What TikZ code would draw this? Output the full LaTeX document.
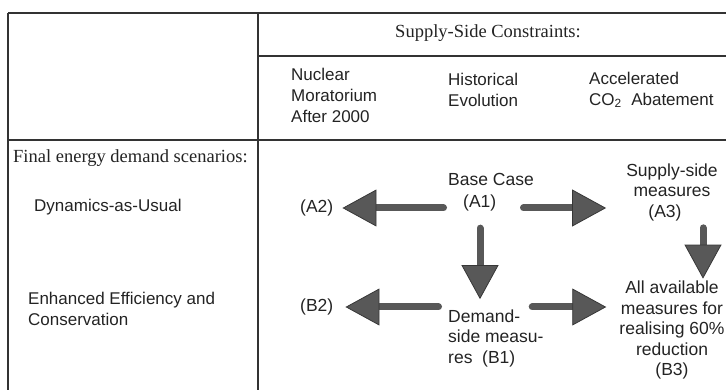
\documentclass[tikz,border=0pt]{standalone}
\usepackage{fontspec}
\setmainfont{Liberation Serif}
\setsansfont{Liberation Sans}
\usetikzlibrary{arrows.meta, positioning}
\definecolor{arrowfill}{RGB}{88,88,88}
\definecolor{arrowedge}{RGB}{55,55,55}
\definecolor{inkgrey}{RGB}{35,35,35}
\tikzset{
    gridline/.style={line width=1.4pt, draw=black!80},
    colhead/.style={font=\fontsize{18.5}{21}\selectfont, text=inkgrey, inner sep=0pt},
    sidelbl/.style={font=\sffamily\fontsize{17}{21}\selectfont, text=inkgrey, align=left,
                    inner sep=0pt, anchor=west},
    scenario/.style={font=\sffamily\fontsize{17.5}{20.5}\selectfont, text=inkgrey,
                     align=center, inner sep=0pt},
    bigarrow/.style={line width=7pt, draw=arrowfill, line cap=round,
                     -{Triangle[length=34pt, width=37pt, line width=0.8pt,
                                fill=arrowfill, color=arrowedge]}},
}
\begin{document}
\begin{tikzpicture}[x=1pt, y=-1pt]

    \clip (0,0) rectangle (726,390);

    % table frame
    \draw[gridline] (8,13) -- (726,13);
    \draw[gridline] (258,56) -- (726,56);
    \draw[gridline] (8,140) -- (726,140);
    \draw[gridline] (8,13) -- (8,390);
    \draw[gridline] (258,13) -- (258,390);

    % column heads
    \node[colhead] (supply) at (488,33) {Supply-Side Constraints:};
    \node[sidelbl] (nuclear) at (291,95) {Nuclear\\Moratorium\\After 2000};
    \node[sidelbl] (histevo) at (448,90) {Historical\\Evolution};
    \node[sidelbl] (accel) at (589,90)
        {Accelerated\\CO\textsubscript{2}\ \ Abatement};

    % row heads
    \node[colhead, anchor=west] (final) at (13,158) {Final energy demand scenarios:};
    \node[sidelbl] (dynusual) at (34,207) {Dynamics-as-Usual};
    \node[sidelbl] (enheff) at (28,309) {Enhanced Efficiency and\\Conservation};

    % scenarios
    \node[scenario, align=left, anchor=west] (a1) at (448,192)
        {Base Case\\[1.5pt]\hspace*{15pt}(A1)};
    \node[scenario, anchor=west] (a2) at (300,208) {(A2)};
    \node[scenario] (a3) at (672,192)
        {Supply-side\\measures\\(A3)\hspace*{14pt}};
    \node[scenario, align=left, anchor=west] (b1) at (448,338)
        {Demand-\\side measu-\\res~ (B1)};
    \node[scenario, anchor=west] (b2) at (300,307) {(B2)};
    \node[scenario] (b3) at (672,330)
        {All available\\measures for\\realising 60\%\\reduction\\(B3)};

    % A1 -> A2, A3, B1
    \draw[bigarrow, shorten <=4.5pt, shorten >=9pt] (a1.west |- a2.east) -- (a2.east);
    \draw[bigarrow, shorten <=-10.5pt, shorten >=20pt] (a1.east |- a2.east) -- (a3.west |- a2.east);
    \draw[bigarrow, shorten <=17pt, shorten >=10pt]
        ([xshift=-11pt]a1.south) -- ([xshift=-11pt]a1.south |- b1.north);

    % A3 -> B3
    \draw[bigarrow, shorten <=7pt, shorten >=2pt]
        ([xshift=31pt]a3.south) -- ([xshift=31pt]a3.south |- b3.north);

    % B1 -> B2, B3
    \draw[bigarrow, shorten <=9.5pt, shorten >=12pt] (b1.west |- b2.east) -- (b2.east);
    \draw[bigarrow, shorten <=-11.5pt, shorten >=13pt] (b1.east |- b2.east) -- (b3.west |- b2.east);

\end{tikzpicture}
\end{document}
